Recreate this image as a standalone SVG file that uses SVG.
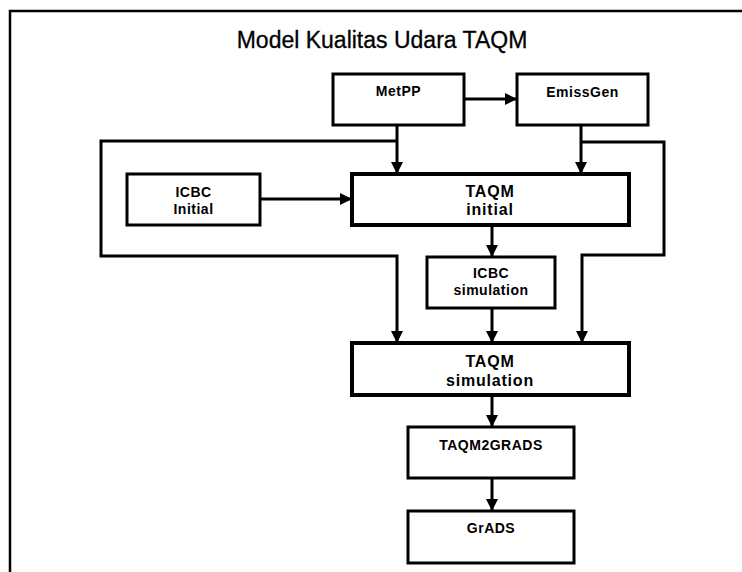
<svg xmlns="http://www.w3.org/2000/svg" width="742" height="572" viewBox="0 0 742 572">
  <defs>
    <marker id="arr" viewBox="0 0 12 12" refX="12" refY="6" markerWidth="12" markerHeight="12" markerUnits="userSpaceOnUse" orient="auto">
      <path d="M0,0 L12,6 L0,12 Z" fill="#000"/>
    </marker>
    <style>
      .box { fill: #fff; stroke: #000; stroke-width: 3; }
      .boxb { fill: #fff; stroke: #000; stroke-width: 4; }
      .lbl { font-family: "Liberation Sans", Arial, sans-serif; font-size: 14px; font-weight: bold; text-anchor: middle; fill: #000; letter-spacing: 0.5px; }
      .lblb { font-family: "Liberation Sans", Arial, sans-serif; font-size: 16px; font-weight: bold; text-anchor: middle; fill: #000; letter-spacing: 0.8px; }
      .title { font-family: "Liberation Sans", Arial, sans-serif; font-size: 23px; text-anchor: middle; fill: #000; stroke: #000; stroke-width: 0.3; }
      .conn { fill: none; stroke: #000; stroke-width: 3; }
      .frame { fill: none; stroke: #000; stroke-width: 2.5; }
    </style>
  </defs>
  <rect width="742" height="572" fill="#fff"/>
  <path class="frame" d="M10,572 V11 H742"/>
  <text class="title" x="382" y="48">Model Kualitas Udara TAQM</text>

  <g id="connectors">
    <path class="conn" d="M464,99 H517" marker-end="url(#arr)"/>
    <path class="conn" d="M397,125 V174" marker-end="url(#arr)"/>
    <path class="conn" d="M581,125 V174" marker-end="url(#arr)"/>
    <path class="conn" d="M260,199 H352" marker-end="url(#arr)"/>
    <path class="conn" d="M492,225 V257" marker-end="url(#arr)"/>
    <path class="conn" d="M397,141 H101 V256 H397 V343" marker-end="url(#arr)"/>
    <path class="conn" d="M581,142 H664 V255 H582 V343" marker-end="url(#arr)"/>
    <path class="conn" d="M492,308 V343" marker-end="url(#arr)"/>
    <path class="conn" d="M492,395 V427" marker-end="url(#arr)"/>
    <path class="conn" d="M492,478 V511" marker-end="url(#arr)"/>
  </g>

  <g id="metpp">
    <rect class="box" x="333" y="74" width="131" height="51"/>
    <text class="lbl" x="398.5" y="96">MetPP</text>
  </g>
  <g id="emissgen">
    <rect class="box" x="517" y="74" width="131" height="51"/>
    <text class="lbl" x="582.5" y="97">EmissGen</text>
  </g>
  <g id="icbc-initial">
    <rect class="box" x="127" y="174" width="133" height="51"/>
    <text class="lbl" x="193.5" y="197">ICBC</text>
    <text class="lbl" x="193.5" y="214">Initial</text>
  </g>
  <g id="taqm-initial">
    <rect class="boxb" x="352" y="174" width="277" height="51"/>
    <text class="lblb" x="490" y="197">TAQM</text>
    <text class="lblb" x="490" y="215">initial</text>
  </g>
  <g id="icbc-simulation">
    <rect class="box" x="427" y="257" width="128" height="51"/>
    <text class="lbl" x="491" y="278">ICBC</text>
    <text class="lbl" x="491" y="295">simulation</text>
  </g>
  <g id="taqm-simulation">
    <rect class="boxb" x="352" y="343" width="277" height="52"/>
    <text class="lblb" x="490" y="367">TAQM</text>
    <text class="lblb" x="490" y="386">simulation</text>
  </g>
  <g id="taqm2grads">
    <rect class="box" x="408" y="427" width="166" height="51"/>
    <text class="lbl" x="491" y="450">TAQM2GRADS</text>
  </g>
  <g id="grads">
    <rect class="box" x="408" y="511" width="166" height="52"/>
    <text class="lbl" x="491" y="533">GrADS</text>
  </g>
</svg>
